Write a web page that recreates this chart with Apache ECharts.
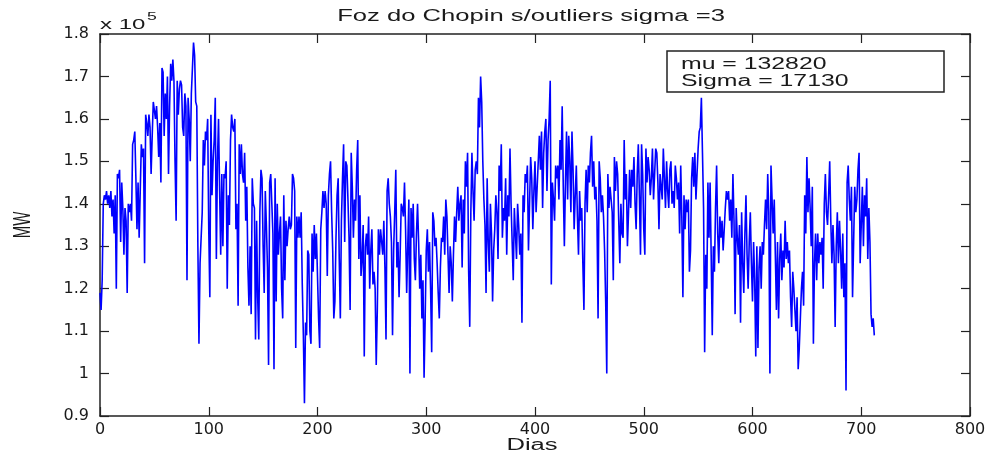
<!DOCTYPE html>
<html>
<head>
<meta charset="utf-8">
<script src="https://cdn.jsdelivr.net/npm/echarts@6/dist/echarts.min.js"></script>
<style>
  html, body { margin: 0; padding: 0; background: #fff; }
  #chart { width: 994px; height: 457px; }
</style>
</head>
<body>
<div id="chart"></div>
<script>
// daily load, in units of 1000 MW (axis shows x 10^5)
var mw = [
  119, 115, 122, 140, 142, 141, 143, 140, 142, 139,
  143, 137, 141, 133, 142, 120, 147, 146, 148, 131,
  145, 139, 128, 139, 136, 119, 140, 138, 140, 136,
  154, 155, 157, 146, 134, 145, 132, 143, 154, 151,
  153, 126, 161, 159, 156, 161, 158, 147, 156, 164,
  162, 160, 163, 158, 151, 159, 145, 172, 171, 156,
  166, 160, 170, 147, 163, 173, 169, 174, 169, 150,
  136, 169, 161, 167, 169, 168, 158, 156, 166, 163,
  122, 165, 160, 150, 166, 172, 178, 175, 164, 163,
  130, 107, 126, 132, 138, 155, 149, 157, 155, 160,
  134, 118, 161, 142, 150, 155, 165, 127, 150, 160,
  143, 128, 147, 130, 147, 146, 150, 120, 142, 135,
  155, 161, 158, 157, 160, 134, 140, 116, 154, 147,
  154, 147, 145, 152, 136, 144, 125, 116, 130, 114,
  146, 140, 139, 108, 136, 118, 108, 138, 148, 146,
  130, 119, 143, 135, 125, 102, 145, 147, 140, 133,
  101, 146, 117, 140, 128, 133, 137, 120, 113, 142,
  122, 136, 130, 134, 137, 134, 135, 147, 146, 143,
  106, 137, 132, 137, 132, 138, 121, 109, 93, 112,
  109, 129, 128, 110, 107, 133, 124, 135, 127, 133,
  133, 113, 106, 134, 138, 143, 139, 143, 140, 123,
  142, 147, 150, 138, 129, 113, 117, 132, 142, 146,
  127, 113, 136, 146, 154, 131, 150, 149, 141, 132,
  115, 152, 144, 132, 141, 136, 148, 155, 127, 142,
  123, 127, 135, 104, 130, 133, 128, 137, 120, 129,
  134, 121, 124, 120, 102, 115, 134, 128, 134, 131,
  128, 136, 125, 108, 143, 146, 140, 137, 131, 109,
  129, 138, 148, 125, 131, 118, 128, 140, 139, 137,
  145, 134, 119, 130, 141, 100, 139, 132, 140, 127,
  122, 133, 140, 131, 120, 128, 113, 122, 99, 113,
  129, 134, 124, 131, 120, 105, 138, 136, 130, 132,
  126, 119, 113, 125, 132, 131, 137, 128, 141, 137,
  128, 119, 130, 126, 117, 128, 137, 131, 138, 144,
  136, 140, 142, 125, 141, 133, 150, 144, 152, 124,
  111, 138, 152, 143, 136, 148, 150, 147, 165, 158,
  170, 164, 150, 141, 135, 119, 146, 131, 124, 140,
  133, 117, 129, 134, 142, 138, 127, 149, 143, 154,
  132, 139, 136, 146, 128, 142, 137, 153, 140, 131,
  122, 139, 133, 127, 140, 135, 128, 133, 112, 142,
  138, 147, 145, 149, 129, 140, 151, 146, 134, 143,
  150, 138, 144, 150, 156, 148, 157, 139, 152, 157,
  160, 143, 155, 160, 169, 121, 145, 141, 136, 149,
  146, 149, 141, 155, 148, 163, 144, 130, 145, 157,
  141, 156, 150, 138, 157, 148, 134, 142, 149, 137,
  128, 143, 136, 139, 126, 115, 140, 148, 138, 149,
  145, 152, 156, 144, 150, 141, 144, 136, 113, 150,
  146, 138, 142, 137, 129, 117, 100, 147, 139, 144,
  144, 138, 122, 151, 143, 150, 147, 136, 126, 140,
  133, 132, 155, 141, 147, 130, 138, 148, 139, 148,
  144, 151, 140, 134, 147, 154, 142, 128, 154, 147,
  134, 128, 153, 145, 151, 148, 142, 146, 153, 141,
  147, 153, 152, 145, 134, 147, 147, 141, 153, 146,
  139, 150, 143, 139, 148, 150, 140, 143, 139, 149,
  146, 141, 145, 133, 149, 137, 118, 142, 134, 141,
  138, 141, 124, 129, 146, 151, 144, 152, 141, 147,
  153, 157, 158, 165, 152, 139, 105, 128, 120, 145,
  132, 145, 128, 109, 130, 124, 139, 149, 133, 126,
  137, 132, 136, 129, 134, 139, 143, 141, 143, 136,
  141, 132, 147, 136, 114, 139, 132, 128, 135, 112,
  138, 126, 119, 133, 142, 128, 120, 131, 138, 126,
  117, 131, 122, 104, 130, 106, 125, 130, 120, 131,
  128, 135, 141, 134, 147, 138, 100, 149, 141, 133,
  141, 128, 115, 131, 113, 127, 133, 122, 129, 125,
  136, 127, 131, 126, 129, 118, 111, 124, 120, 115,
  110, 118, 101, 106, 113, 120, 124, 116, 142, 133,
  151, 138, 146, 139, 130, 144, 107, 126, 133, 122,
  133, 126, 131, 128, 132, 120, 140, 147, 138, 135,
  142, 150, 136, 126, 135, 128, 111, 130, 138, 126,
  136, 129, 120, 133, 118, 126, 96, 145, 149, 141,
  136, 144, 118, 131, 144, 138, 141, 148, 152, 126,
  135, 144, 130, 142, 137, 146, 127, 139, 131, 114,
  111, 113, 109
];

var xTicks = [0, 100, 200, 300, 400, 500, 600, 700, 800];
var yTicks = [90, 100, 110, 120, 130, 140, 150, 160, 170, 180];
var titleText = 'Foz do Chopin s/outliers sigma =3';
var statLines = ['mu = 132820', 'Sigma = 17130'];

var font = '"Liberation Sans", Arial, sans-serif';
var tickFont = '"DejaVu Sans", sans-serif';
var ink = '#1a1a1a';
var stretch = 1.6; // the original picture is wider than tall

var points = mw.map(function(v, i) { return [i, v]; });

var chart = echarts.init(document.getElementById('chart'));

function boxAxis(extra) {
  return Object.assign({
    type: 'value',
    axisLine: { show: true, onZero: false, lineStyle: { color: '#222', width: 1.5 } },
    axisTick: { show: true, inside: true, length: 9, lineStyle: { color: '#222', width: 1.2 } },
    splitLine: { show: false },
    axisLabel: { show: false }
  }, extra);
}

function label(text, x, y, size, opts) {
  return Object.assign({
    type: 'text', x: x, y: y, scaleX: stretch, z: 11,
    style: {
      text: text, x: 0, y: 0, align: 'center', verticalAlign: 'middle',
      fontFamily: font, fontSize: size, fill: ink
    }
  }, opts || {});
}

chart.setOption({
  animation: false,
  backgroundColor: '#fff',
  grid: { left: 100, right: 24, top: 34, bottom: 41 },
  xAxis: [
    boxAxis({
      min: xTicks[0], max: xTicks[xTicks.length - 1], interval: 100,
      position: 'bottom',
      axisLabel: { show: true, margin: 6, fontFamily: tickFont, fontSize: 16, color: ink }
    }),
    boxAxis({
      min: xTicks[0], max: xTicks[xTicks.length - 1], interval: 100,
      position: 'top'
    })
  ],
  yAxis: [
    boxAxis({
      min: yTicks[0], max: yTicks[yTicks.length - 1], interval: 10,
      position: 'left',
      axisLabel: {
        show: true, margin: 11, fontFamily: tickFont, fontSize: 16, color: ink,
        formatter: function(v) { return String(+(v / 100).toFixed(2)); }
      }
    }),
    boxAxis({
      min: yTicks[0], max: yTicks[yTicks.length - 1], interval: 10,
      position: 'right'
    })
  ],
  graphic: [
    label(titleText, 531, 17, 16),
    label('Dias', 532, 446, 16),
    {
      type: 'text', x: 23, y: 225, rotation: Math.PI / 2, scaleY: stretch, z: 11,
      style: {
        text: 'MW', x: 0, y: 0, align: 'center', verticalAlign: 'middle',
        fontFamily: font, fontSize: 15, fill: ink
      }
    },
    {
      type: 'text', x: 100, y: 22, scaleX: stretch, z: 11,
      style: {
        text: '{a|x 10}{b|5}', x: 0, y: 0, align: 'left', verticalAlign: 'middle',
        rich: {
          a: { fontFamily: font, fontSize: 15, fill: ink, padding: [6, 0, 0, 0] },
          b: { fontFamily: font, fontSize: 11, fill: ink, padding: [0, 0, 10, 1] }
        }
      }
    },
    {
      type: 'rect',
      shape: { x: 667, y: 51, width: 277, height: 41 },
      style: { fill: '#fff', stroke: '#222', lineWidth: 1.5 },
      z: 10
    },
    label(statLines[0], 681, 65, 16, { scaleX: 1.55, style: {
      text: statLines[0], x: 0, y: 0, align: 'left', verticalAlign: 'middle',
      fontFamily: font, fontSize: 16, fill: ink } }),
    label(statLines[1], 681, 82, 16, { scaleX: 1.55, style: {
      text: statLines[1], x: 0, y: 0, align: 'left', verticalAlign: 'middle',
      fontFamily: font, fontSize: 16, fill: ink } })
  ],
  series: [
    {
      type: 'line',
      data: points,
      showSymbol: false,
      symbol: 'none',
      lineStyle: { color: '#0000ff', width: 1.6 },
      z: 2
    }
  ]
});
</script>
</body>
</html>
